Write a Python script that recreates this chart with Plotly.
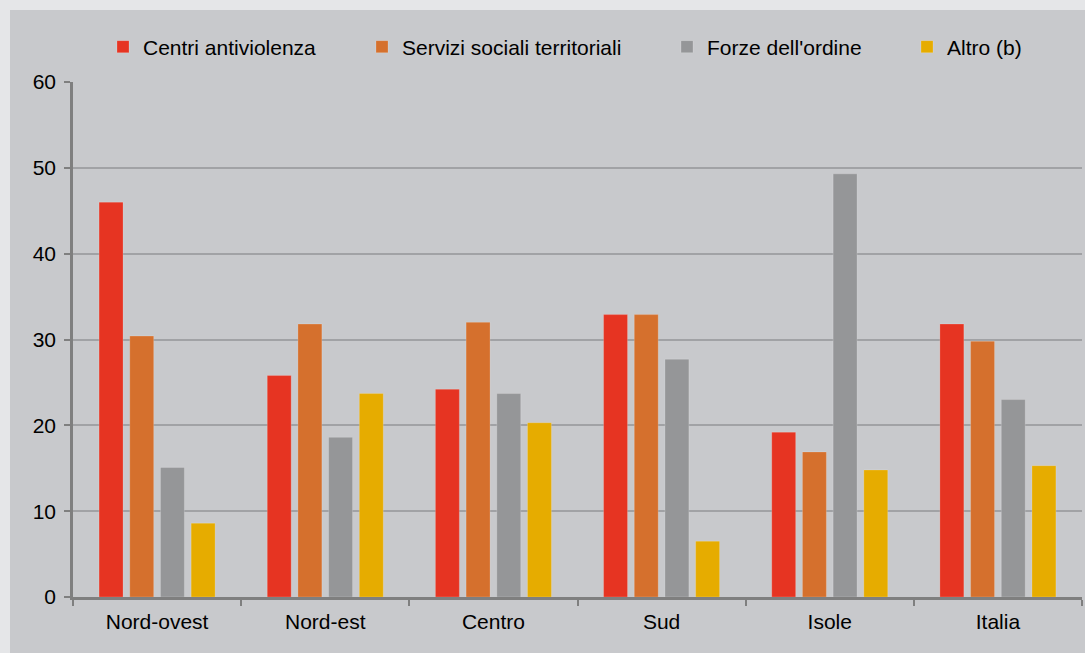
import plotly.graph_objects as go

# Regional breakdown, values in percent
regions = ["Nord-ovest", "Nord-est", "Centro", "Sud", "Isole", "Italia"]
series_names = ["Centri antiviolenza", "Servizi sociali territoriali",
                "Forze dell'ordine", "Altro (b)"]
centri = [46.0, 25.8, 24.2, 32.9, 19.2, 31.8]
servizi = [30.4, 31.8, 32.0, 32.9, 16.9, 29.8]
forze = [15.1, 18.6, 23.7, 27.7, 49.3, 23.0]
altro = [8.6, 23.7, 20.3, 6.5, 14.8, 15.3]
colors = ["#e63422", "#d5702d", "#959698", "#e6ac00"]
y_ticks = [0, 10, 20, 30, 40, 50, 60]

W, H = 1085, 653
ML, MR, MT, MB = 73, 3, 82, 56
PW, PH = W - ML - MR, H - MT - MB

FONT = "Liberation Sans, Arial, sans-serif"
FSIZE = 21


def px_x(px):
    return (px - ML) / PW


def px_y(py):
    return (H - MB - py) / PH


fig = go.Figure()
legend_keys = ["legend", "legend2", "legend3", "legend4"]
for name, vals, col, lg in zip(series_names, [centri, servizi, forze, altro],
                               colors, legend_keys):
    fig.add_trace(go.Bar(
        x=regions, y=vals, name=name, legend=lg,
        marker=dict(color=col, line=dict(color="rgba(255,255,255,0.18)", width=1)),
    ))

# one legend per series so each entry can sit at its own place along the top
legend_text_px = [143, 402, 707, 947]
legend_cfg = {}
for lg, tx in zip(legend_keys, legend_text_px):
    legend_cfg[lg] = dict(
        x=px_x(tx - 40), xanchor="left",
        y=px_y(47), yanchor="middle",
        orientation="h", bgcolor="rgba(0,0,0,0)", borderwidth=0,
        font=dict(family=FONT, size=FSIZE, color="#000000"),
        itemclick=False, itemdoubleclick=False,
    )

fig.update_layout(
    width=W, height=H,
    margin=dict(l=ML, r=MR, t=MT, b=MB),
    paper_bgcolor="#e5e6e8",
    plot_bgcolor="rgba(0,0,0,0)",
    bargap=0.27, bargroupgap=0.22,
    showlegend=True,
    shapes=[dict(
        type="rect", xref="paper", yref="paper", layer="below",
        x0=px_x(10), x1=px_x(W + 5), y0=px_y(H + 5), y1=px_y(10),
        fillcolor="#c8c9cc", line=dict(width=0),
    )],
    **legend_cfg,
)

fig.update_xaxes(
    type="category", tickson="boundaries",
    showline=True, linecolor="#7f7f7f", linewidth=2.5,
    ticks="outside", ticklen=6, tickwidth=2, tickcolor="#7f7f7f",
    showgrid=False,
    tickfont=dict(family=FONT, size=FSIZE, color="#000000"),
    ticklabelstandoff=4,
)
fig.update_yaxes(
    range=[0, 60], tickvals=y_ticks,
    showline=True, linecolor="#7f7f7f", linewidth=2.5,
    ticks="outside", ticklen=6, tickwidth=2, tickcolor="#7f7f7f",
    showgrid=True, gridcolor="#a1a2a5", gridwidth=1.5,
    zeroline=False,
    tickfont=dict(family=FONT, size=FSIZE, color="#000000"),
    ticklabelstandoff=4,
)

fig.write_html("out.html")
